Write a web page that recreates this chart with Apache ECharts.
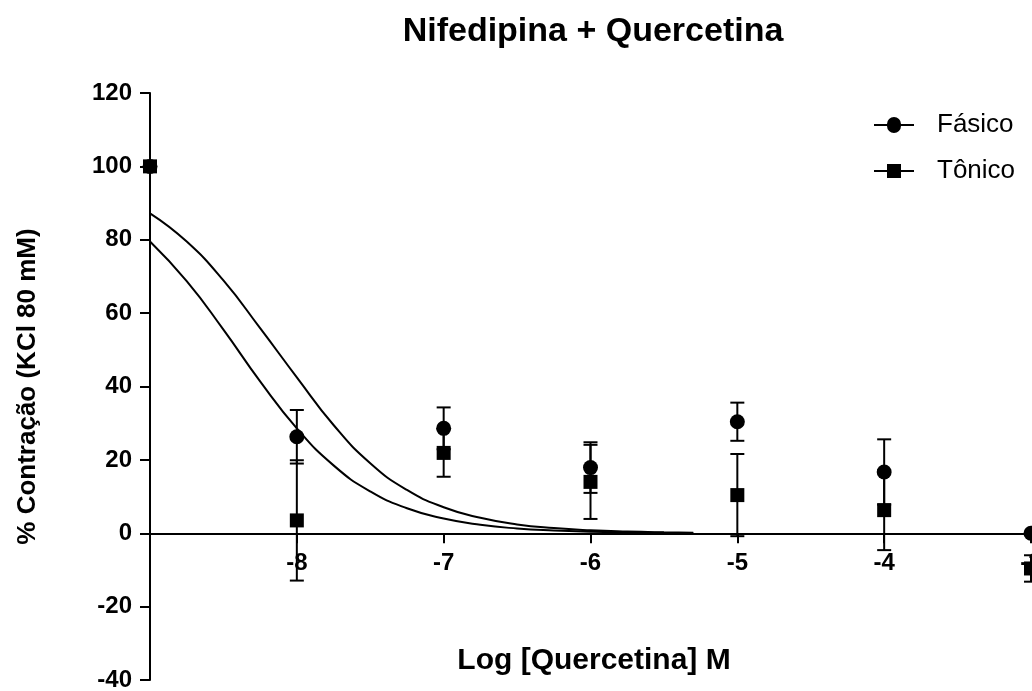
<!DOCTYPE html>
<html>
<head>
<meta charset="utf-8">
<script src="https://cdn.jsdelivr.net/npm/echarts@6/dist/echarts.min.js"></script>
<style>
html,body{margin:0;padding:0;background:#fff;}
#chart{width:1032px;height:691px;}
</style>
</head>
<body>
<div id="chart"></div>
<script>
// ---- data ----
const logConc = [-9, -8, -7, -6, -5, -4, -3];
const fasico = [100, 26.3, 28.6, 17.9, 30.4, 16.7, 0];
const fasicoErr = [0, 7.3, 5.7, 6.9, 5.2, 8.9, 0];
const tonico = [100, 3.5, 21.9, 14.0, 10.4, 6.3, -9.6];
const tonicoErr = [0, 16.4, 6.5, 10.1, 11.2, 10.9, 3.6];

// fitted curves
const curveX = [-9, -8.75, -8.5, -8.25, -8, -7.75, -7.5, -7.25, -7, -6.75, -6.5, -6.25, -6, -5.75, -5.5, -5.3];
const curveUpper = [87.2, 79.5, 68.9, 55.9, 42.5, 29.5, 19.1, 11.8, 7.1, 4.2, 2.4, 1.4, 0.8, 0.46, 0.26, 0.17];
const curveLower = [79.5, 68.7, 55.5, 41.4, 28.6, 18.5, 11.4, 6.8, 4.0, 2.3, 1.3, 0.75, 0.42, 0.24, 0.13, 0.09];

const yTicks = [-40, -20, 0, 20, 40, 60, 80, 100, 120];
const xTicks = [-9, -8, -7, -6, -5, -4, -3];

const titleText = 'Nifedipina + Quercetina';
const xName = 'Log [Quercetina] M';
const yName = '% Contração (KCl 80 mM)';
const seriesNames = ['Fásico', 'Tônico'];

const FONT = 'Liberation Sans, Arial, Helvetica, sans-serif';

const zip = (xs, ys) => xs.map((x, i) => [x, ys[i]]);
const errData = (ys, es) => logConc.map((x, i) => [x, ys[i], es[i]]).filter(d => d[2] > 0);

function errRender(params, api) {
  const x = api.value(0), y = api.value(1), e = api.value(2);
  const top = api.coord([x, y + e]);
  const bot = api.coord([x, y - e]);
  const cap = 7;
  const style = { stroke: '#000', lineWidth: 2 };
  return {
    type: 'group',
    children: [
      { type: 'line', shape: { x1: top[0], y1: top[1], x2: bot[0], y2: bot[1] }, style },
      { type: 'line', shape: { x1: top[0] - cap, y1: top[1], x2: top[0] + cap, y2: top[1] }, style },
      { type: 'line', shape: { x1: bot[0] - cap, y1: bot[1], x2: bot[0] + cap, y2: bot[1] }, style }
    ]
  };
}

// legend icons: line with circle / square
const circleIcon = 'path://M0,7 L13,7 A7,7 0 0,1 27,7 L40,7 L40,9 L27,9 A7,7 0 0,1 13,9 L0,9 Z';
const squareIcon = 'path://M0,7 L13,7 L13,1 L27,1 L27,7 L40,7 L40,9 L27,9 L27,15 L13,15 L13,9 L0,9 Z';

const GRID_TOP = 93, GRID_BOTTOM = 11, H = 691;
const plotH = H - GRID_TOP - GRID_BOTTOM;
const zeroOffset = -plotH * (0 - yTicks[0]) / (yTicks[yTicks.length - 1] - yTicks[0]);

const chart = echarts.init(document.getElementById('chart'), null, { renderer: 'canvas' });
chart.setOption({
  backgroundColor: '#fff',
  animation: false,
  textStyle: { fontFamily: FONT, color: '#000' },
  title: [
    { text: titleText, left: 588, top: 10, textAlign: 'center',
      textStyle: { fontFamily: FONT, fontSize: 34, fontWeight: 'bold', color: '#000' } },
    { text: xName, left: 589, top: 641, textAlign: 'center',
      textStyle: { fontFamily: FONT, fontSize: 30, fontWeight: 'bold', color: '#000' } }
  ],
  legend: {
    orient: 'vertical',
    left: 869,
    top: 107,
    itemWidth: 40,
    itemHeight: 16,
    itemGap: 20,
    selectedMode: false,
    textStyle: { fontFamily: FONT, fontSize: 26, color: '#000', padding: [0, 0, 0, 18] },
    data: [
      { name: seriesNames[0], icon: circleIcon, itemStyle: { color: '#000' } },
      { name: seriesNames[1], icon: squareIcon, itemStyle: { color: '#000' } }
    ]
  },
  grid: { left: 150, right: 1, top: GRID_TOP, bottom: GRID_BOTTOM, containLabel: false, outerBoundsMode: 'none' },
  xAxis: {
    type: 'value',
    min: xTicks[0],
    max: xTicks[xTicks.length - 1],
    interval: 1,
    offset: zeroOffset,
    axisLine: { onZero: false, lineStyle: { color: '#000', width: 2 } },
    axisTick: { show: true, length: 10, lineStyle: { color: '#000', width: 2 } },
    axisLabel: {
      margin: 18, fontSize: 24, fontWeight: 'bold', color: '#000', fontFamily: FONT,
      showMaxLabel: true, showMinLabel: true, hideOverlap: false,
      formatter: v => (v === xTicks[0] ? '' : String(v))
    },
    splitLine: { show: false }
  },
  yAxis: {
    type: 'value',
    min: yTicks[0],
    max: yTicks[yTicks.length - 1],
    interval: 20,
    name: yName,
    nameLocation: 'middle',
    nameRotate: 90,
    nameGap: 109,
    nameTextStyle: { fontFamily: FONT, fontSize: 26, fontWeight: 'bold', color: '#000' },
    axisLine: { show: true, onZero: false, lineStyle: { color: '#000', width: 2 } },
    axisTick: { show: true, length: 10, lineStyle: { color: '#000', width: 2 } },
    axisLabel: { margin: 18, fontSize: 24, fontWeight: 'bold', color: '#000', fontFamily: FONT },
    splitLine: { show: false }
  },
  series: [
    { name: 'fitUpper', type: 'line', data: zip(curveX, curveUpper), smooth: true, showSymbol: false,
      lineStyle: { color: '#000', width: 2 }, z: 1, silent: true },
    { name: 'fitLower', type: 'line', data: zip(curveX, curveLower), smooth: true, showSymbol: false,
      lineStyle: { color: '#000', width: 2 }, z: 1, silent: true },
    { name: 'errF', type: 'custom', renderItem: errRender, data: errData(fasico, fasicoErr), z: 2, silent: true },
    { name: 'errT', type: 'custom', renderItem: errRender, data: errData(tonico, tonicoErr), z: 2, silent: true },
    { name: seriesNames[0], type: 'scatter', data: zip(logConc, fasico), symbol: 'circle', symbolSize: 15,
      itemStyle: { color: '#000', opacity: 1 }, z: 3 },
    { name: seriesNames[1], type: 'scatter', data: zip(logConc, tonico), symbol: 'rect', symbolSize: 14,
      itemStyle: { color: '#000', opacity: 1 }, z: 4 }
  ]
});
</script>
</body>
</html>
